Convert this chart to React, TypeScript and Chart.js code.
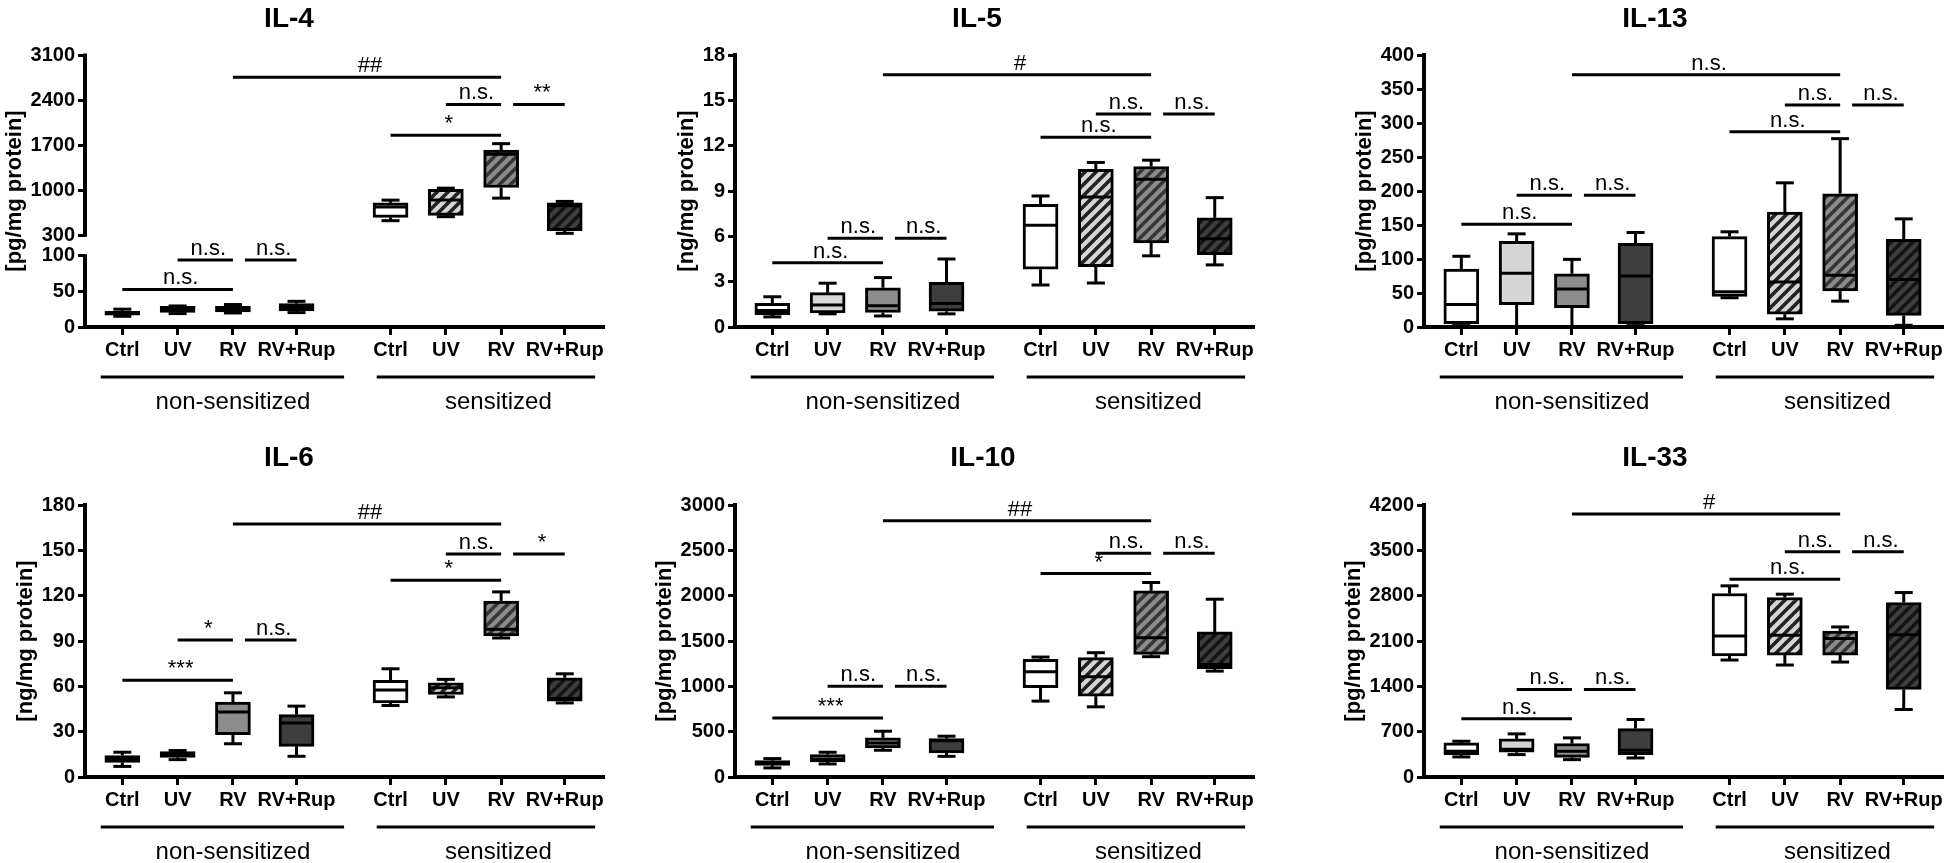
import React, { useEffect, useRef } from 'react';
import { Chart, registerables } from 'chart.js';

Chart.register(...registerables);

const FONT = "'Liberation Sans', Arial, Helvetica, sans-serif";
Chart.defaults.font.family = FONT;
Chart.defaults.color = '#000';

// ---------------- data ----------------
const CATEGORIES = ['Ctrl', 'UV', 'RV', 'RV+Rup', 'Ctrl', 'UV', 'RV', 'RV+Rup'];
const GROUP_LABELS = ['non-sensitized', 'sensitized'];

// IL-4 (broken axis)
const IL4_MIN = [15, 18.8, 19.7, 20.2, 527, 589, 877, 331];
const IL4_Q1 = [16.5, 20.6, 21, 22.5, 578, 609, 1043, 372];
const IL4_MEDIAN = [19.5, 24.5, 25.4, 27.2, 740, 850, 1560, 760];
const IL4_Q3 = [22, 29, 29, 32.9, 805, 1012, 1625, 805];
const IL4_MAX = [25, 29.5, 31.5, 36, 846, 1032, 1723, 826];
const IL4_TICKS_LOW = [0, 50, 100];
const IL4_TICKS_HIGH = [300, 1000, 1700, 2400, 3100];
const IL4_SIG = [
  { from: 2, to: 6, value: 2755, label: '##', axis: 'yHigh' },
  { from: 5, to: 6, value: 2332, label: 'n.s.', axis: 'yHigh' },
  { from: 6, to: 7, value: 2332, label: '**', axis: 'yHigh' },
  { from: 4, to: 6, value: 1852, label: '*', axis: 'yHigh' },
  { from: 1, to: 2, value: 93.9, label: 'n.s.', axis: 'yLow' },
  { from: 2, to: 3, value: 93.9, label: 'n.s.', axis: 'yLow' },
  { from: 0, to: 2, value: 52.6, label: 'n.s.', axis: 'yLow' },
];

// IL-5
const IL5_MIN = [0.67, 0.87, 0.73, 0.87, 2.78, 2.91, 4.71, 4.11];
const IL5_Q1 = [0.82, 0.93, 0.96, 1.04, 3.82, 4.0, 5.56, 4.78];
const IL5_MEDIAN = [1.1, 1.45, 1.4, 1.56, 6.73, 8.6, 9.78, 5.84];
const IL5_Q3 = [1.56, 2.27, 2.6, 2.96, 8.11, 10.44, 10.62, 7.22];
const IL5_MAX = [2.0, 2.9, 3.27, 4.5, 8.67, 10.89, 11.04, 8.56];
const IL5_TICKS = [0, 3, 6, 9, 12, 15, 18];
const IL5_SIG = [
  { from: 2, to: 6, value: 16.7, label: '#' },
  { from: 5, to: 6, value: 14.1, label: 'n.s.' },
  { from: 6, to: 7, value: 14.1, label: 'n.s.' },
  { from: 4, to: 6, value: 12.55, label: 'n.s.' },
  { from: 1, to: 2, value: 5.88, label: 'n.s.' },
  { from: 2, to: 3, value: 5.88, label: 'n.s.' },
  { from: 0, to: 2, value: 4.26, label: 'n.s.' },
];

// IL-13
const IL13_MIN = [2, 0, 0, 2, 43, 12, 38, 2.5];
const IL13_Q1 = [5, 33, 28.6, 5, 45, 19, 53, 17];
const IL13_MEDIAN = [33, 79, 55.7, 75, 52, 66, 76, 70];
const IL13_Q3 = [85, 126, 78.3, 123, 133, 169, 196, 129];
const IL13_MAX = [104, 137, 99.5, 139, 140, 212, 277, 159];
const IL13_TICKS = [0, 50, 100, 150, 200, 250, 300, 350, 400];
const IL13_SIG = [
  { from: 2, to: 6, value: 371, label: 'n.s.' },
  { from: 5, to: 6, value: 326.6, label: 'n.s.' },
  { from: 6, to: 7, value: 326.6, label: 'n.s.' },
  { from: 4, to: 6, value: 287, label: 'n.s.' },
  { from: 1, to: 2, value: 193.6, label: 'n.s.' },
  { from: 2, to: 3, value: 193.6, label: 'n.s.' },
  { from: 0, to: 2, value: 151, label: 'n.s.' },
];

// IL-6
const IL6_MIN = [7, 11.5, 22, 13.7, 47.3, 53, 92, 49];
const IL6_Q1 = [9.7, 13, 28, 20.3, 49, 54.6, 93.3, 50.2];
const IL6_MEDIAN = [12, 14.8, 43, 35.8, 57.5, 59, 97.7, 52];
const IL6_Q3 = [14.2, 16.8, 49.5, 41.3, 64, 62.4, 116.5, 65.7];
const IL6_MAX = [16.4, 17.5, 55.7, 46.9, 71.6, 64.6, 122.5, 68.3];
const IL6_TICKS = [0, 30, 60, 90, 120, 150, 180];
const IL6_SIG = [
  { from: 2, to: 6, value: 167.4, label: '##' },
  { from: 5, to: 6, value: 147.5, label: 'n.s.' },
  { from: 6, to: 7, value: 147.5, label: '*' },
  { from: 4, to: 6, value: 130.2, label: '*' },
  { from: 1, to: 2, value: 90.6, label: '*' },
  { from: 2, to: 3, value: 90.6, label: 'n.s.' },
  { from: 0, to: 2, value: 64.1, label: '***' },
];

// IL-10
const IL10_MIN = [100, 144, 295, 228, 837, 774, 1327, 1168];
const IL10_Q1 = [129, 166, 321, 265, 984, 892, 1353, 1194];
const IL10_MEDIAN = [155, 199, 376, 400, 1161, 1106, 1537, 1242];
const IL10_Q3 = [181, 247, 431, 424, 1297, 1316, 2053, 1600];
const IL10_MAX = [203, 273, 505, 450, 1323, 1371, 2145, 1961];
const IL10_TICKS = [0, 500, 1000, 1500, 2000, 2500, 3000];
const IL10_SIG = [
  { from: 2, to: 6, value: 2827, label: '##' },
  { from: 5, to: 6, value: 2469, label: 'n.s.' },
  { from: 6, to: 7, value: 2469, label: 'n.s.' },
  { from: 4, to: 6, value: 2244, label: '*' },
  { from: 1, to: 2, value: 1002, label: 'n.s.' },
  { from: 2, to: 3, value: 1002, label: 'n.s.' },
  { from: 0, to: 2, value: 652, label: '***' },
];

// IL-33
const IL33_MIN = [310, 346, 268, 294, 1806, 1729, 1775, 1042];
const IL33_Q1 = [346, 382, 304, 346, 1868, 1883, 1883, 1352];
const IL33_MEDIAN = [397, 430, 397, 413, 2178, 2188, 2140, 2198];
const IL33_Q3 = [526, 588, 516, 748, 2833, 2771, 2255, 2694];
const IL33_MAX = [552, 666, 604, 888, 2952, 2823, 2317, 2848];
const IL33_TICKS = [0, 700, 1400, 2100, 2800, 3500, 4200];
const IL33_SIG = [
  { from: 2, to: 6, value: 4061, label: '#' },
  { from: 5, to: 6, value: 3478, label: 'n.s.' },
  { from: 6, to: 7, value: 3478, label: 'n.s.' },
  { from: 4, to: 6, value: 3055, label: 'n.s.' },
  { from: 1, to: 2, value: 1352, label: 'n.s.' },
  { from: 2, to: 3, value: 1352, label: 'n.s.' },
  { from: 0, to: 2, value: 898, label: 'n.s.' },
];

// ---------------- layout / style ----------------
const POS = [0, 1, 2, 3.15, 4.85, 5.85, 6.85, 8.0];
const X_MIN = -0.675;
const X_MAX = 8.71;
const GROUP_SPANS = [[-0.39, 4.01], [4.6, 8.55]];
const GROUP_LABEL_POS = [2.0, 6.8];
const CANVAS_W = 650;
const CANVAS_H = 455;
const AREA_LEFT = 85;
const AREA_TOP = 75;
const AREA_RIGHT = 604;
const AREA_BOTTOM = 347;
const X_AXIS_H = 40;
const BOX_W = 35;
const CAP_W = 18;
const LINE_W = 3;
const AXIS_W = 4;

const FILLS = ['#ffffff', '#d6d6d6', '#8c8c8c', '#3e3e3e', '#ffffff', '#d6d6d6', '#8c8c8c', '#3e3e3e'];
const STRIPES = [null, null, null, null, null, '#222222', '#363636', '#141414'];

function makeHatch(bg: string, stripe: string) {
  const p = 11;
  const c = document.createElement('canvas');
  c.width = p;
  c.height = p;
  const g = c.getContext('2d') as CanvasRenderingContext2D;
  g.fillStyle = bg;
  g.fillRect(0, 0, p, p);
  g.strokeStyle = stripe;
  g.lineWidth = 3.6;
  g.beginPath();
  g.moveTo(-1, p + 1);
  g.lineTo(p + 1, -1);
  g.moveTo(-p / 2, p / 2);
  g.lineTo(p / 2, -p / 2);
  g.moveTo(p / 2, p * 1.5);
  g.lineTo(p * 1.5, p / 2);
  g.stroke();
  return g.createPattern(c, 'repeat');
}

const PANELS = [
  { key: 'il4', title: 'IL-4', yTitle: '[pg/mg protein]', left: 0, top: -20, titleX: 289, titleY: 39,
    min: IL4_MIN, q1: IL4_Q1, med: IL4_MEDIAN, q3: IL4_Q3, max: IL4_MAX, ticksLow: IL4_TICKS_LOW, ticksHigh: IL4_TICKS_HIGH, sig: IL4_SIG, broken: true },
  { key: 'il5', title: 'IL-5', yTitle: '[ng/mg protein]', left: 650, top: -20, titleX: 327, titleY: 39,
    min: IL5_MIN, q1: IL5_Q1, med: IL5_MEDIAN, q3: IL5_Q3, max: IL5_MAX, ticks: IL5_TICKS, sig: IL5_SIG },
  { key: 'il13', title: 'IL-13', yTitle: '[pg/mg protein]', left: 1339, top: -20, titleX: 316, titleY: 39,
    min: IL13_MIN, q1: IL13_Q1, med: IL13_MEDIAN, q3: IL13_Q3, max: IL13_MAX, ticks: IL13_TICKS, sig: IL13_SIG },
  { key: 'il6', title: 'IL-6', yTitle: '[ng/mg protein]', left: 0, top: 430, titleX: 289, titleY: 28,
    min: IL6_MIN, q1: IL6_Q1, med: IL6_MEDIAN, q3: IL6_Q3, max: IL6_MAX, ticks: IL6_TICKS, sig: IL6_SIG },
  { key: 'il10', title: 'IL-10', yTitle: '[pg/mg protein]', left: 650, top: 430, titleX: 333, titleY: 28,
    min: IL10_MIN, q1: IL10_Q1, med: IL10_MEDIAN, q3: IL10_Q3, max: IL10_MAX, ticks: IL10_TICKS, sig: IL10_SIG },
  { key: 'il33', title: 'IL-33', yTitle: '[pg/mg protein]', left: 1339, top: 430, titleX: 316, titleY: 28,
    min: IL33_MIN, q1: IL33_Q1, med: IL33_MEDIAN, q3: IL33_Q3, max: IL33_MAX, ticks: IL33_TICKS, sig: IL33_SIG },
];

function yScaleOptions(ticks: number[], min: number, max: number, extra: any) {
  return Object.assign({
    type: 'linear',
    position: 'left',
    min,
    max,
    afterBuildTicks: (s: any) => { s.ticks = ticks.map((v) => ({ value: v })); },
    afterFit: (s: any) => { s.width = AREA_LEFT; },
    ticks: { autoSkip: false, padding: 3, color: '#000', font: { family: FONT, size: 20, weight: 'bold' }, callback: (v: any) => String(v) },
    grid: { drawOnChartArea: false, drawTicks: true, tickLength: 7, tickWidth: 3, tickColor: '#000', offset: false },
    border: { display: true, color: '#000', width: AXIS_W },
  }, extra);
}

function buildConfig(panel: any) {
  const fills = FILLS.map((f, i) => (STRIPES[i] ? makeHatch(f, STRIPES[i] as string) : f));
  const makeDataset = (idx: number[], axis: string) => ({
    data: idx.map((i) => ({ x: POS[i], y: [panel.q1[i], panel.q3[i]] })),
    stats: idx.map((i) => ({ min: panel.min[i], q1: panel.q1[i], med: panel.med[i], q3: panel.q3[i], max: panel.max[i] })),
    backgroundColor: idx.map((i) => fills[i]),
    borderColor: '#000',
    borderWidth: LINE_W,
    borderSkipped: false,
    barThickness: BOX_W,
    grouped: false,
    yAxisID: axis,
  });

  let datasets: any[];
  const scales: any = {
    x: {
      type: 'linear',
      position: 'bottom',
      min: X_MIN,
      max: X_MAX,
      offset: false,
      afterBuildTicks: (s: any) => { s.ticks = POS.map((v) => ({ value: v })); },
      afterFit: (s: any) => { s.height = X_AXIS_H; },
      ticks: { autoSkip: false, maxRotation: 0, minRotation: 0, padding: 3, color: '#000', font: { family: FONT, size: 20, weight: 'bold' }, callback: (_v: any, i: number) => CATEGORIES[i] },
      grid: { drawOnChartArea: false, drawTicks: true, tickLength: 8, tickWidth: 3, tickColor: '#000', offset: false },
      border: { display: true, color: '#000', width: AXIS_W },
    },
  };

  if (panel.broken) {
    datasets = [makeDataset([0, 1, 2, 3], 'yLow'), makeDataset([4, 5, 6, 7], 'yHigh')];
    scales.yHigh = yScaleOptions(panel.ticksHigh, 141.6, 3100, { stack: 'brk', stackWeight: 190.5, weight: 2, border: { display: false } });
    scales.yLow = yScaleOptions(panel.ticksLow, 0, 114.3, { stack: 'brk', stackWeight: 81.5, weight: 1, border: { display: false } });
  } else {
    datasets = [makeDataset([0, 1, 2, 3, 4, 5, 6, 7], 'y')];
    const t = panel.ticks;
    scales.y = yScaleOptions(t, t[0], t[t.length - 1], {});
  }

  const line = (ctx: CanvasRenderingContext2D, x1: number, y1: number, x2: number, y2: number) => {
    ctx.beginPath();
    ctx.moveTo(x1, y1);
    ctx.lineTo(x2, y2);
    ctx.stroke();
  };

  const decor = {
    id: 'decor' + panel.key,
    beforeDatasetsDraw(chart: any) {
      const ctx = chart.ctx as CanvasRenderingContext2D;
      ctx.save();
      ctx.strokeStyle = '#000';
      ctx.lineWidth = LINE_W;
      chart.data.datasets.forEach((ds: any, di: number) => {
        const meta = chart.getDatasetMeta(di);
        const ys = chart.scales[meta.yAxisID];
        meta.data.forEach((el: any, j: number) => {
          const s = ds.stats[j];
          const x = el.x;
          const yMax = ys.getPixelForValue(s.max);
          const yMin = ys.getPixelForValue(s.min);
          line(ctx, x, ys.getPixelForValue(s.q3), x, yMax);
          line(ctx, x - CAP_W / 2, yMax, x + CAP_W / 2, yMax);
          line(ctx, x, ys.getPixelForValue(s.q1), x, yMin);
          line(ctx, x - CAP_W / 2, yMin, x + CAP_W / 2, yMin);
        });
      });
      ctx.restore();
    },
    afterDatasetsDraw(chart: any) {
      const ctx = chart.ctx as CanvasRenderingContext2D;
      ctx.save();
      ctx.strokeStyle = '#000';
      ctx.lineWidth = LINE_W;
      chart.data.datasets.forEach((ds: any, di: number) => {
        const meta = chart.getDatasetMeta(di);
        const ys = chart.scales[meta.yAxisID];
        meta.data.forEach((el: any, j: number) => {
          const s = ds.stats[j];
          const yMed = ys.getPixelForValue(s.med);
          line(ctx, el.x - el.width / 2 + 1, yMed, el.x + el.width / 2 - 1, yMed);
        });
      });
      ctx.restore();
    },
    afterDraw(chart: any) {
      const ctx = chart.ctx as CanvasRenderingContext2D;
      const xs = chart.scales.x;
      const area = chart.chartArea;
      ctx.save();
      ctx.strokeStyle = '#000';
      ctx.fillStyle = '#000';

      // broken y axis segments
      if (panel.broken) {
        ctx.lineWidth = AXIS_W;
        const yl = chart.scales.yLow;
        const yh = chart.scales.yHigh;
        const ax = area.left;
        line(ctx, ax, yl.getPixelForValue(0) + AXIS_W / 2, ax, yl.getPixelForValue(100) - 1.5);
        line(ctx, ax, yh.getPixelForValue(300) + 1.5, ax, yh.getPixelForValue(3100) - 1.5);
      }

      // significance bars
      ctx.lineWidth = LINE_W;
      ctx.font = `22px ${FONT}`;
      ctx.textAlign = 'center';
      ctx.textBaseline = 'alphabetic';
      panel.sig.forEach((s: any) => {
        const ys = chart.scales[s.axis || 'y'];
        const y = ys.getPixelForValue(s.value);
        const gapped = panel.sig.some((o: any) => o !== s && o.to === s.from && o.value === s.value);
        const x1 = xs.getPixelForValue(POS[s.from]) + (gapped ? 12 : 0);
        const x2 = xs.getPixelForValue(POS[s.to]);
        line(ctx, x1, y, x2, y);
        ctx.fillText(s.label, (x1 + x2) / 2 + 3, y - 5);
      });

      // group lines + labels
      const gy = area.bottom + 50;
      GROUP_SPANS.forEach((sp) => {
        line(ctx, xs.getPixelForValue(sp[0]), gy, xs.getPixelForValue(sp[1]), gy);
      });
      ctx.font = `24px ${FONT}`;
      ctx.textBaseline = 'middle';
      GROUP_LABELS.forEach((g, i) => {
        ctx.fillText(g, xs.getPixelForValue(GROUP_LABEL_POS[i]), area.bottom + 75);
      });

      // title
      ctx.font = `bold 28px ${FONT}`;
      ctx.fillText(panel.title, panel.titleX, panel.titleY);

      // y-axis title, just left of the widest tick label
      ctx.font = `bold 20px ${FONT}`;
      const allTicks: number[] = panel.broken ? panel.ticksLow.concat(panel.ticksHigh) : panel.ticks;
      const maxW = Math.max(...allTicks.map((v) => ctx.measureText(String(v)).width));
      const tx = area.left - 7 - 3 - maxW - 16;
      ctx.font = `bold 22px ${FONT}`;
      ctx.translate(tx, (area.top + area.bottom) / 2);
      ctx.rotate(-Math.PI / 2);
      ctx.fillText(panel.yTitle, 0, 0);
      ctx.restore();
    },
  };

  return {
    type: 'bar',
    data: { datasets },
    options: {
      responsive: false,
      maintainAspectRatio: false,
      animation: false,
      devicePixelRatio: 1,
      events: [],
      layout: { padding: { left: 0, top: AREA_TOP, right: CANVAS_W - AREA_RIGHT, bottom: CANVAS_H - AREA_BOTTOM - X_AXIS_H } },
      plugins: { legend: { display: false }, tooltip: { enabled: false }, title: { display: false } },
      scales,
    },
    plugins: [decor],
  };
}

function Panel({ panel }: { panel: any }) {
  const ref = useRef<HTMLCanvasElement | null>(null);
  useEffect(() => {
    if (!ref.current) return;
    const chart = new Chart(ref.current, buildConfig(panel) as any);
    return () => chart.destroy();
  }, [panel]);
  return (
    <canvas
      ref={ref}
      width={CANVAS_W}
      height={CANVAS_H}
      style={{ position: 'absolute', left: panel.left, top: panel.top, width: CANVAS_W, height: CANVAS_H }}
    />
  );
}

export default function App() {
  return (
    <div style={{ position: 'fixed', left: 0, top: 0, width: 1946, height: 863, overflow: 'hidden', background: '#fff' }}>
      {PANELS.map((p) => (
        <Panel key={p.key} panel={p} />
      ))}
    </div>
  );
}
